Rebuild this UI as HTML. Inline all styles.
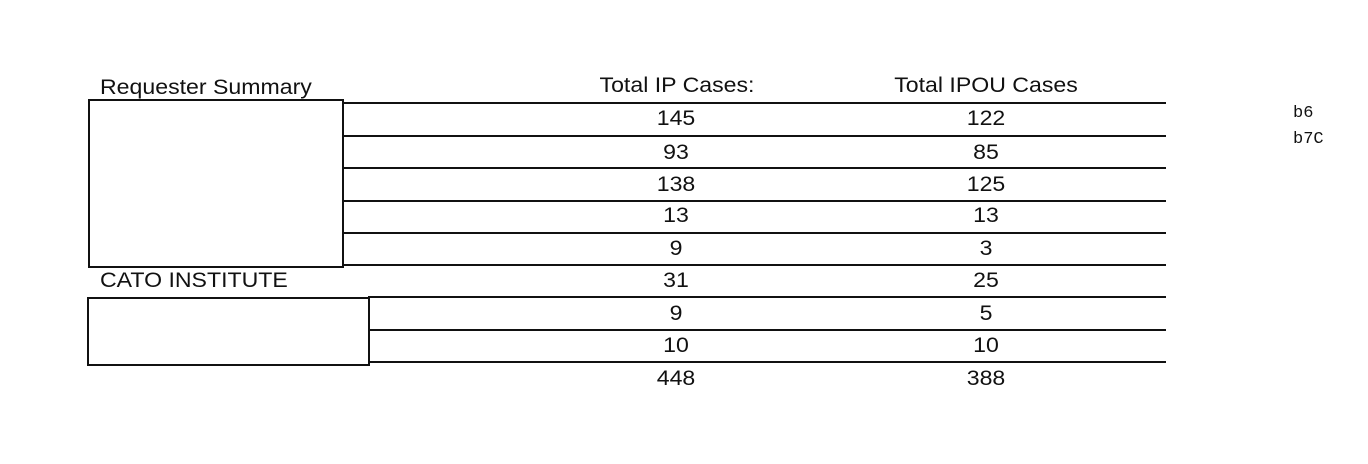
<!DOCTYPE html><html><head><style>
body{margin:0;width:1368px;height:464px;background:#fff;position:relative;overflow:hidden;font-family:"Liberation Sans",sans-serif;color:#111}
.t{position:absolute;font-size:21px;line-height:20px;white-space:nowrap;transform:scaleX(1.1);transform-origin:0 0}
.c{transform:translateX(-50%) scaleX(1.1);transform-origin:50% 0}
.l{position:absolute;height:2px;background:#111;right:202px}
.b{position:absolute;border:2.5px solid #111;box-sizing:border-box}
.m{position:absolute;font-family:"Liberation Mono",monospace;font-size:17px}
</style></head><body>
<div class="t" style="left:100px;top:78px">Requester Summary</div>
<div class="t c" style="left:677px;top:76px">Total IP Cases:</div>
<div class="t c" style="left:986px;top:76px">Total IPOU Cases</div>
<div class="t" style="left:100px;top:271px">CATO INSTITUTE</div>
<div class="b" style="left:88px;top:99px;width:256px;height:169px"></div>
<div class="b" style="left:87px;top:297px;width:283px;height:69px"></div>
<div class="l" style="left:342px;top:102px"></div>
<div class="l" style="left:342px;top:135px"></div>
<div class="l" style="left:342px;top:167px"></div>
<div class="l" style="left:342px;top:200px"></div>
<div class="l" style="left:342px;top:232px"></div>
<div class="l" style="left:342px;top:264px"></div>
<div class="l" style="left:368px;top:296px"></div>
<div class="l" style="left:368px;top:329px"></div>
<div class="l" style="left:368px;top:361px"></div>
<div class="t c" style="left:676px;top:109px">145</div><div class="t c" style="left:986px;top:109px">122</div>
<div class="t c" style="left:676px;top:143px">93</div><div class="t c" style="left:986px;top:143px">85</div>
<div class="t c" style="left:676px;top:175px">138</div><div class="t c" style="left:986px;top:175px">125</div>
<div class="t c" style="left:676px;top:206px">13</div><div class="t c" style="left:986px;top:206px">13</div>
<div class="t c" style="left:676px;top:239px">9</div><div class="t c" style="left:986px;top:239px">3</div>
<div class="t c" style="left:676px;top:271px">31</div><div class="t c" style="left:986px;top:271px">25</div>
<div class="t c" style="left:676px;top:304px">9</div><div class="t c" style="left:986px;top:304px">5</div>
<div class="t c" style="left:676px;top:336px">10</div><div class="t c" style="left:986px;top:336px">10</div>
<div class="t c" style="left:676px;top:369px">448</div><div class="t c" style="left:986px;top:369px">388</div>
<div class="m" style="left:1293px;top:104px">b6</div>
<div class="m" style="left:1293px;top:130px">b7C</div>
</body></html>
